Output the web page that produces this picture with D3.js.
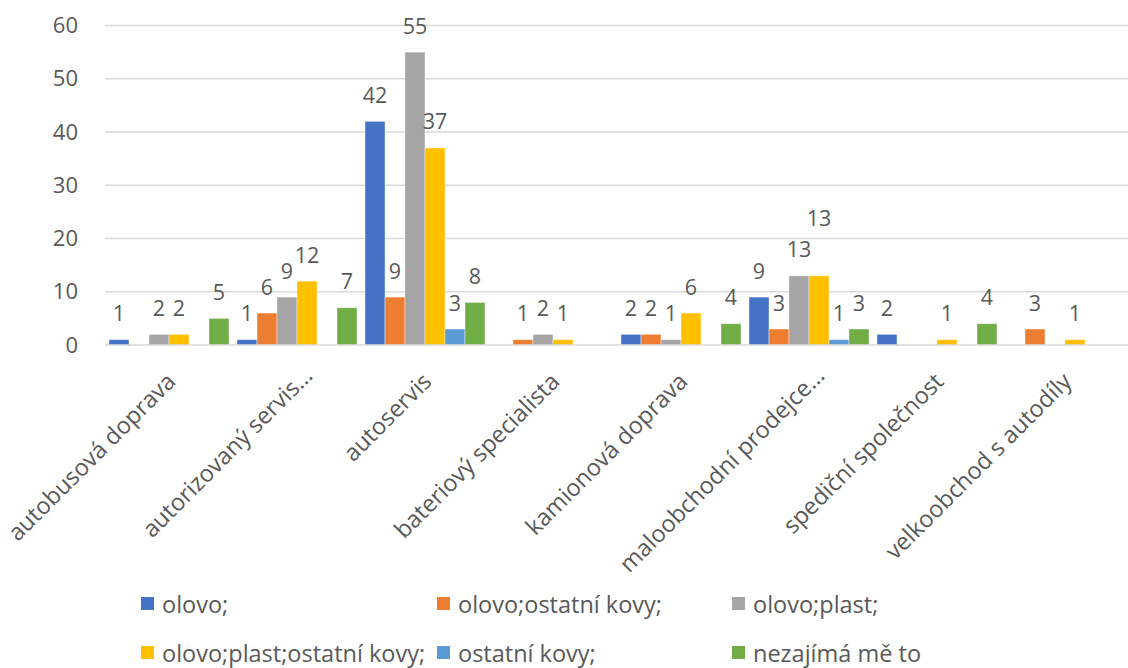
<!DOCTYPE html>
<html><head><meta charset="utf-8">
<script src="https://cdn.jsdelivr.net/npm/d3@7"></script>
<style>body{margin:0;background:#fff}svg{display:block}text{font-family:"Open Sans",sans-serif;fill:#595959}</style>
</head><body><svg id="c" width="1128" height="668"></svg>
<script>
const categories = ["autobusová doprava","autorizovaný servis…","autoservis","bateriový specialista","kamionová doprava","maloobchodní prodejce…","spediční společnost","velkoobchod s autodíly"];
const seriesNames = ["olovo;","olovo;ostatní kovy;","olovo;plast;","olovo;plast;ostatní kovy;","ostatní kovy;","nezajímá mě to"];
const colors = ["#4472C4","#ED7D31","#A5A5A5","#FFC000","#5B9BD5","#70AD47"];
// null = no bar
const olovo =            [1, 1, 42, null, 2, 9, 2, null];
const olovoOstatni =     [null, 6, 9, 1, 2, 3, null, 3];
const olovoPlast =       [2, 9, 55, 2, 1, 13, null, null];
const olovoPlastOstatni =[2, 12, 37, 1, 6, 13, 1, 1];
const ostatniKovy =      [null, null, 3, null, null, 1, null, null];
const nezajima =         [5, 7, 8, null, 4, 3, 4, null];
const yTicks = [0,10,20,30,40,50,60];
const seriesValues = [olovo, olovoOstatni, olovoPlast, olovoPlastOstatni, ostatniKovy, nezajima];

const svg = d3.select("#c");
const pLeft = 105, pRight = 1129, pTop = 25.5, pBottom = 345;
const x0 = d3.scaleBand().domain(categories).range([pLeft, pRight]).paddingInner(0).paddingOuter(0);
const x1 = d3.scaleBand().domain(d3.range(seriesNames.length)).range([0, 120]);
const y = d3.scaleLinear().domain([0,60]).range([pBottom, pTop]);

// grid
svg.append("g").selectAll("line").data(yTicks.filter(t=>t>0)).join("line")
  .attr("x1", pLeft).attr("x2", pRight).attr("y1", d=>y(d)).attr("y2", d=>y(d))
  .attr("stroke","#d9d9d9").attr("stroke-width",1.3);
// y axis labels
const yAxis = d3.axisLeft(y).tickValues(yTicks).tickSize(0).tickPadding(27);
const ga = svg.append("g").attr("transform",`translate(${pLeft},0)`).call(yAxis);
ga.select(".domain").remove();
ga.selectAll("text").style("font-size","22px").attr("fill","#595959").style("font-family","'Open Sans',sans-serif");

const off = (x0.bandwidth()-120)/2;
const bars = [];
categories.forEach((c,ci)=>{
  seriesValues.forEach((s,si)=>{
    if(s[ci]!=null) bars.push({c, ci, si, v:s[ci]});
  });
});
svg.append("g").selectAll("rect").data(bars).join("rect")
  .attr("x", d=>x0(d.c)+off+x1(d.si)).attr("width", x1.bandwidth())
  .attr("y", d=>y(d.v)).attr("height", d=>pBottom-y(d.v))
  .attr("fill", d=>colors[d.si]).attr("stroke","#fff").attr("stroke-opacity",0.5).attr("stroke-width",0.8);

// baseline
svg.append("line").attr("x1",pLeft).attr("x2",pRight).attr("y1",pBottom).attr("y2",pBottom).attr("stroke","#d9d9d9").attr("stroke-width",1.3);

// value labels with simple collision avoidance
const lg = svg.append("g");
const placed = [];
bars.forEach(d=>{
  const cx = x0(d.c)+off+x1(d.si)+x1.bandwidth()/2;
  let cy = y(d.v)-27;
  const t = lg.append("text").attr("x",cx).attr("text-anchor","middle").attr("dominant-baseline","central")
    .style("font-size","21.5px").text(d.v);
  const w = t.node().getComputedTextLength();
  const h = 28;
  let moved = true;
  while(moved){
    moved=false;
    for(const p of placed){
      if(Math.abs(p.x-cx) < (p.w+w)/2 && Math.abs(p.y-cy) < h){ cy = p.y - h - 3; moved=true; }
    }
  }
  t.attr("y",cy);
  placed.push({x:cx,y:cy,w});
});

// category labels
svg.append("g").selectAll("text").data(categories).join("text")
  .attr("transform", d=>`translate(${x0(d)+x0.bandwidth()/2+(d.endsWith("…")?17:8)},${pBottom+(d.endsWith("…")?32:38)}) rotate(-45)`)
  .attr("text-anchor","end").style("font-size","23.5px").text(d=>d);

// legend
const legX = [141, 437, 732], legY = [604, 653];
const lgd = svg.append("g");
seriesNames.forEach((n,i)=>{
  const col = i%3, row = Math.floor(i/3);
  const g = lgd.append("g").attr("transform",`translate(${legX[col]},${legY[row]})`);
  g.append("rect").attr("x",0).attr("y",-7).attr("width",13).attr("height",13).attr("fill",colors[i]);
  g.append("text").attr("x",21).attr("y",0).attr("dominant-baseline","central").style("font-size","23.5px").text(n);
});
</script></body></html>
